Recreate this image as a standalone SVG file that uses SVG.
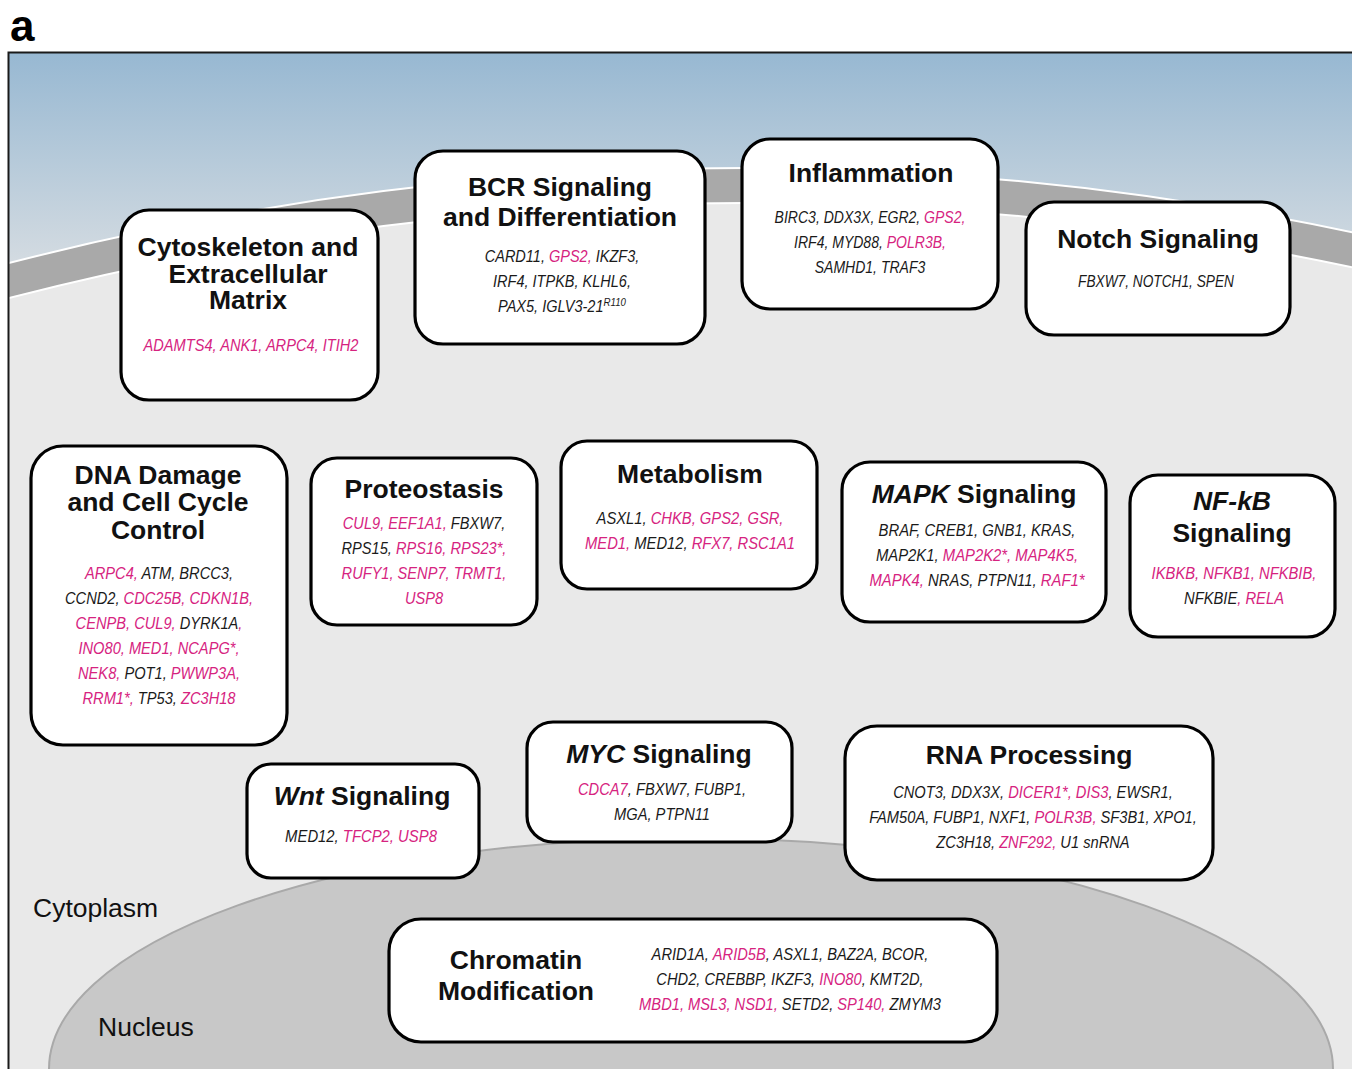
<svg xmlns="http://www.w3.org/2000/svg" width="1352" height="1069" viewBox="0 0 1352 1069">
<style>
.box{fill:#fff;stroke:#000;stroke-width:3.2}
.t{font-family:"Liberation Sans",Arial,sans-serif;font-weight:bold;font-size:26.5px;text-anchor:middle;fill:#111}
.g{font-family:"Liberation Sans",Arial,sans-serif;font-style:italic;font-size:16.5px;text-anchor:middle;fill:#1a1a1a}
.p{fill:#d6237f}
.lbl{font-family:"Liberation Sans",Arial,sans-serif;font-size:26.5px;fill:#111}
</style>
<defs>
<linearGradient id="sky" x1="0" y1="52" x2="0" y2="275" gradientUnits="userSpaceOnUse">
<stop offset="0" stop-color="#97b8d2"/>
<stop offset="1" stop-color="#d7dde2"/>
</linearGradient>
<clipPath id="frame"><rect x="9" y="53" width="1350" height="1020"/></clipPath>
</defs>
<rect width="1352" height="1069" fill="#fff"/>
<text x="10" y="41" font-family="Liberation Sans,Arial,sans-serif" font-weight="bold" font-size="44" fill="#000">a</text>
<g id="background" clip-path="url(#frame)">
<rect x="9" y="53" width="1350" height="1020" fill="url(#sky)"/>
<path d="M -10 268 Q 675 87 1360 234 L 1360 1075 L -10 1075 Z" fill="#a9a9a9" stroke="#fff" stroke-width="2"/>
<path d="M -10 303 Q 675 122 1360 269 L 1360 1075 L -10 1075 Z" fill="#e9e9e9" stroke="#fff" stroke-width="2"/>
<ellipse cx="691" cy="1069" rx="642" ry="231" fill="#c8c8c8" stroke="#a9a9a9" stroke-width="2"/>
</g>
<path d="M 8.5 1069 L 8.5 52.5 L 1352 52.5" fill="none" stroke="#1a1a1a" stroke-width="2"/>
<text class="lbl" x="33" y="917">Cytoplasm</text>
<text class="lbl" x="98" y="1036">Nucleus</text>
<g id="connectors"></g>

<g id="cytoskeleton">
<rect class="box" x="121" y="210" width="257" height="190" rx="28"/>
<text class="t"><tspan x="248" y="255.5">Cytoskeleton and</tspan><tspan x="248" y="282.5">Extracellular</tspan><tspan x="248" y="308.5">Matrix</tspan></text>
<g transform="translate(251 0) scale(0.886 1)">
<text class="g p" x="0" y="351">ADAMTS4, ANK1, ARPC4, ITIH2</text>
</g>
</g>

<g id="bcr">
<rect class="box" x="415" y="151" width="290" height="193" rx="28"/>
<text class="t"><tspan x="560" y="195.5">BCR Signaling</tspan><tspan x="560" y="225.5">and Differentiation</tspan></text>
<g transform="translate(562 0) scale(0.88 1)">
<text class="g" x="0" y="262">CARD11, <tspan class="p">GPS2,</tspan> IKZF3,</text>
<text class="g" x="0" y="287">IRF4, ITPKB, KLHL6,</text>
<text class="g" x="0" y="312">PAX5, IGLV3-21<tspan font-size="11" dy="-6">R110</tspan></text>
</g>
</g>

<g id="inflammation">
<rect class="box" x="742" y="139" width="256" height="170" rx="28"/>
<text class="t" x="871" y="181.5">Inflammation</text>
<g transform="translate(870 0) scale(0.85 1)">
<text class="g" x="0" y="223">BIRC3, DDX3X, EGR2, <tspan class="p">GPS2,</tspan></text>
<text class="g" x="0" y="248">IRF4, MYD88, <tspan class="p">POLR3B,</tspan></text>
<text class="g" x="0" y="273">SAMHD1, TRAF3</text>
</g>
</g>

<g id="notch">
<rect class="box" x="1026" y="202" width="264" height="133" rx="28"/>
<text class="t" x="1158" y="247.5">Notch Signaling</text>
<g transform="translate(1156 0) scale(0.83 1)">
<text class="g" x="0" y="287">FBXW7, NOTCH1, SPEN</text>
</g>
</g>

<g id="dna">
<rect class="box" x="31" y="446" width="256" height="299" rx="32"/>
<text class="t"><tspan x="158" y="483.5">DNA Damage</tspan><tspan x="158" y="510.5">and Cell Cycle</tspan><tspan x="158" y="538.5">Control</tspan></text>
<g transform="translate(159 0) scale(0.888 1)">
<text class="g" x="0" y="579"><tspan class="p">ARPC4,</tspan> ATM, BRCC3,</text>
<text class="g" x="0" y="604">CCND2, <tspan class="p">CDC25B, CDKN1B,</tspan></text>
<text class="g" x="0" y="629"><tspan class="p">CENPB, CUL9,</tspan> DYRK1A<tspan class="p">,</tspan></text>
<text class="g p" x="0" y="654">INO80, MED1, NCAPG*,</text>
<text class="g" x="0" y="679"><tspan class="p">NEK8,</tspan> POT1, <tspan class="p">PWWP3A,</tspan></text>
<text class="g" x="0" y="704"><tspan class="p">RRM1*,</tspan> TP53, <tspan class="p">ZC3H18</tspan></text>
</g>
</g>

<g id="proteostasis">
<rect class="box" x="311" y="458" width="226" height="167" rx="26"/>
<text class="t" x="424" y="497.5">Proteostasis</text>
<g transform="translate(424 0) scale(0.886 1)">
<text class="g" x="0" y="529"><tspan class="p">CUL9, EEF1A1,</tspan> FBXW7,</text>
<text class="g" x="0" y="554">RPS15, <tspan class="p">RPS16, RPS23*,</tspan></text>
<text class="g p" x="0" y="579">RUFY1, SENP7, TRMT1,</text>
<text class="g p" x="0" y="604">USP8</text>
</g>
</g>

<g id="metabolism">
<rect class="box" x="561" y="441" width="256" height="148" rx="26"/>
<text class="t" x="690" y="482.5">Metabolism</text>
<g transform="translate(690 0) scale(0.895 1)">
<text class="g" x="0" y="524">ASXL1, <tspan class="p">CHKB, GPS2, GSR,</tspan></text>
<text class="g" x="0" y="549"><tspan class="p">MED1,</tspan> MED12, <tspan class="p">RFX7, RSC1A1</tspan></text>
</g>
</g>

<g id="mapk">
<rect class="box" x="842" y="462" width="264" height="160" rx="28"/>
<text class="t" x="974" y="502.5"><tspan font-style="italic">MAPK</tspan> Signaling</text>
<g transform="translate(977 0) scale(0.9 1)">
<text class="g" x="0" y="536">BRAF, CREB1, GNB1, KRAS,</text>
<text class="g" x="0" y="561">MAP2K1, <tspan class="p">MAP2K2*, MAP4K5,</tspan></text>
<text class="g" x="0" y="586"><tspan class="p">MAPK4,</tspan> NRAS, PTPN11, <tspan class="p">RAF1*</tspan></text>
</g>
</g>

<g id="nfkb">
<rect class="box" x="1130" y="475" width="205" height="162" rx="28"/>
<text class="t"><tspan x="1232" y="509.5" font-style="italic">NF-kB</tspan><tspan x="1232" y="541.5">Signaling</tspan></text>
<g transform="translate(1234 0) scale(0.895 1)">
<text class="g p" x="0" y="579">IKBKB, NFKB1, NFKBIB,</text>
<text class="g" x="0" y="604">NFKBIE<tspan class="p">, RELA</tspan></text>
</g>
</g>

<g id="wnt">
<rect class="box" x="247" y="764" width="232" height="114" rx="24"/>
<text class="t" x="362" y="804.5"><tspan font-style="italic">Wnt</tspan> Signaling</text>
<g transform="translate(361 0) scale(0.9 1)">
<text class="g" x="0" y="842">MED12, <tspan class="p">TFCP2, USP8</tspan></text>
</g>
</g>

<g id="myc">
<rect class="box" x="527" y="722" width="265" height="120" rx="26"/>
<text class="t" x="659" y="762.5"><tspan font-style="italic">MYC</tspan> Signaling</text>
<g transform="translate(662 0) scale(0.89 1)">
<text class="g" x="0" y="795"><tspan class="p">CDCA7</tspan>, FBXW7, FUBP1,</text>
<text class="g" x="0" y="820">MGA, PTPN11</text>
</g>
</g>

<g id="rna">
<rect class="box" x="845" y="726" width="368" height="154" rx="32"/>
<text class="t" x="1029" y="763.5">RNA Processing</text>
<g transform="translate(1033 0) scale(0.89 1)">
<text class="g" x="0" y="798">CNOT3, DDX3X, <tspan class="p">DICER1*, DIS3</tspan>, EWSR1,</text>
<text class="g" x="0" y="823">FAM50A, FUBP1, NXF1, <tspan class="p">POLR3B,</tspan> SF3B1, XPO1,</text>
<text class="g" x="0" y="848">ZC3H18, <tspan class="p">ZNF292,</tspan> U1 snRNA</text>
</g>
</g>

<g id="chromatin">
<rect class="box" x="389" y="919" width="608" height="123" rx="32"/>
<text class="t"><tspan x="516" y="968.5">Chromatin</tspan><tspan x="516" y="999.5">Modification</tspan></text>
<g transform="translate(790 0) scale(0.89 1)">
<text class="g" x="0" y="960">ARID1A, <tspan class="p">ARID5B</tspan>, ASXL1, BAZ2A, BCOR,</text>
<text class="g" x="0" y="985">CHD2, CREBBP, IKZF3, <tspan class="p">INO80</tspan>, KMT2D,</text>
<text class="g" x="0" y="1010"><tspan class="p">MBD1, MSL3, NSD1,</tspan> SETD2, <tspan class="p">SP140,</tspan> ZMYM3</text>
</g>
</g>
</svg>
